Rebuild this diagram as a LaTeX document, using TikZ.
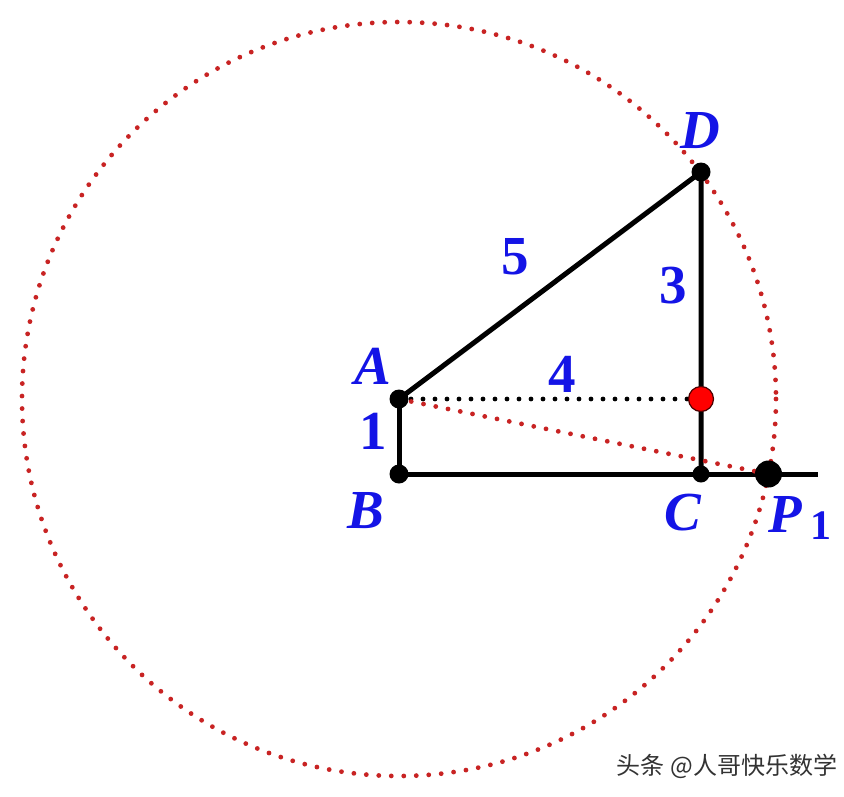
\documentclass[tikz,border=0pt]{standalone}
\usepackage{fontspec}
\setmainfont{Liberation Serif}
\newfontfamily\cjk{Noto Sans CJK SC}
\definecolor{lblue}{RGB}{20,20,230}
\definecolor{dred}{RGB}{200,35,35}
\begin{document}
\begin{tikzpicture}[x=1pt,y=-1pt,
  seg/.style={line width=5pt},
  rdots/.style={dred,line width=4.8pt,line cap=round,dash pattern=on 0pt off 12.5pt},
  bdots/.style={black,line width=4.8pt,line cap=round,dash pattern=on 0pt off 12pt},
  dot/.style={circle,fill=black,inner sep=0pt,minimum size=19pt},
  lab/.style={text=lblue,font=\fontsize{55}{55}\selectfont\bfseries\itshape,inner sep=0pt},
  num/.style={text=lblue,font=\fontsize{55}{55}\selectfont\bfseries,inner sep=0pt}]
\useasboundingbox (0,0) rectangle (844,796);
\fill[white] (0,0) rectangle (844,796);
\coordinate (A) at (399,399);
\coordinate (B) at (399,474);
\coordinate (C) at (701,474);
\coordinate (D) at (701,172);
\coordinate (E) at (701,399);
\coordinate (P) at (768.5,474);
\coordinate (R) at (818,474);
% circle
\draw[rdots] (A) circle[radius=377];
% segments
\draw[seg] (B) -- (R);
\draw[seg] (A) -- (B);
\draw[seg] (C) -- (D) -- (A);
\draw[bdots] (A) -- (E);
\draw[rdots] (A) -- (P);
% dots
\node[dot] (nA) at (A) {};
\node[dot] (nB) at (B) {};
\node[dot,minimum size=17pt] (nC) at (C) {};
\node[dot] (nD) at (D) {};
\node[circle,fill=red,draw=black!70!red,line width=1.2pt,inner sep=0pt,minimum size=25pt] (nE) at (E) {};
\node[dot,minimum size=27pt] (nP) at (P) {};
% labels
\node[lab] (lD) at (700,131) {D};
\node[lab] (lA) at (373,366) {A};
\node[lab] (lB) at (366,511) {B};
\node[lab] (lC) at (683,513) {C};
\node[lab,anchor=base west] (lP) at (768,532) {P\,\raisebox{-7pt}{\upshape\fontsize{42}{42}\selectfont 1}};
\node[num] (n1) at (373,431) {1};
\node[num] (n5) at (515,257) {5};
\node[num] (n3) at (673,286) {3};
\node[num] (n4) at (562,374) {4};
\node[text=black!80,font=\cjk\fontsize{24}{24}\selectfont,inner sep=0pt] (wm) at (727,766) {头条 @人哥快乐数学};
\end{tikzpicture}
\end{document}
